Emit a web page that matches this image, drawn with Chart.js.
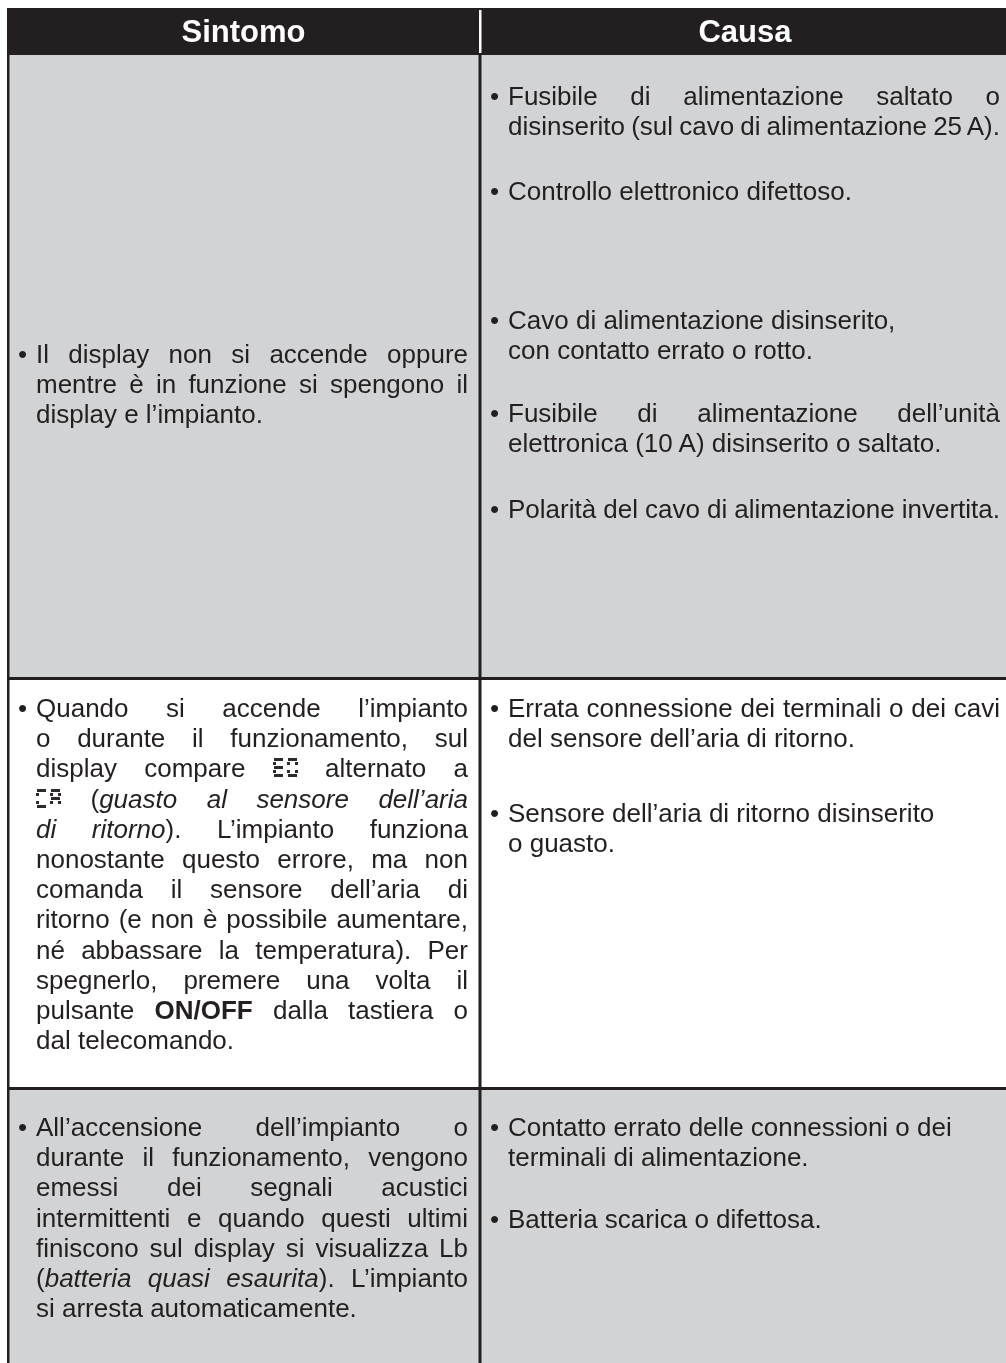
<!DOCTYPE html>
<html>
<head>
<meta charset="utf-8">
<script src="https://cdn.jsdelivr.net/npm/chart.js@4.4.1/dist/chart.umd.min.js"></script>
<style>
html,body{margin:0;padding:0;background:#fff;}
body{width:1006px;height:1363px;position:relative;overflow:hidden;font-family:"Liberation Sans",Arial,Helvetica,sans-serif;color:#231f20;}
#c{position:absolute;left:0;top:0;}
.ln{position:absolute;font-size:26px;line-height:30px;height:30px;white-space:nowrap;}
.ln span.tx{white-space:nowrap;}
.bul{position:absolute;font-size:26px;line-height:30px;white-space:nowrap;}
.hd{position:absolute;font-weight:bold;font-size:31px;line-height:40px;color:#fff;white-space:nowrap;transform:translateX(-50%);}
svg.lcd{vertical-align:baseline;}
</style>
</head>
<body>
<canvas id="c" width="1006" height="1363"></canvas>
<script>
// ---------------- DATA ----------------
const headers = ['Sintomo', 'Causa'];

// Symptom text per row (lines; j = justified line)
const symptoms = [
  [
    {t:'Il display non si accende oppure', j:true},
    {t:'mentre è in funzione si spengono il', j:true},
    {t:'display e l’impianto.'}
  ],
  [
    {t:'Quando si accende l’impianto', j:true},
    {t:'o durante il funzionamento, sul', j:true},
    {t:'display compare {E0} alternato a', j:true},
    {t:'{CA} (<i>guasto al sensore dell’aria</i>', j:true},
    {t:'<i>di ritorno</i>). L’impianto funziona', j:true},
    {t:'nonostante questo errore, ma non', j:true},
    {t:'comanda il sensore dell’aria di', j:true},
    {t:'ritorno (e non è possibile aumentare,', j:true},
    {t:'né abbassare la temperatura). Per', j:true},
    {t:'spegnerlo, premere una volta il', j:true},
    {t:'pulsante <b>ON/OFF</b> dalla tastiera o', j:true},
    {t:'dal telecomando.'}
  ],
  [
    {t:'All’accensione dell’impianto o', j:true},
    {t:'durante il funzionamento, vengono', j:true},
    {t:'emessi dei segnali acustici', j:true},
    {t:'intermittenti e quando questi ultimi', j:true},
    {t:'finiscono sul display si visualizza Lb', j:true},
    {t:'(<i>batteria quasi esaurita</i>). L’impianto', j:true},
    {t:'si arresta automaticamente.'}
  ]
];

// Causes per row: list of bullet items, each a list of lines
const causes = [
  [
    [{t:'Fusibile di alimentazione saltato o', j:true}, {t:'disinserito (sul cavo di alimentazione 25 A).', j:true}],
    [{t:'Controllo elettronico difettoso.'}],
    [{t:'Cavo di alimentazione disinserito,'}, {t:' con contatto errato o rotto.'}],
    [{t:'Fusibile di alimentazione dell’unità', j:true}, {t:'elettronica (10 A) disinserito o saltato.'}],
    [{t:'Polarità del cavo di alimentazione invertita.', j:true}]
  ],
  [
    [{t:'Errata connessione dei terminali o dei cavi', j:true}, {t:'del sensore dell’aria di ritorno.'}],
    [{t:'Sensore dell’aria di ritorno disinserito'}, {t:' o guasto.'}]
  ],
  [
    [{t:'Contatto errato delle connessioni o dei'}, {t:'terminali di alimentazione.'}],
    [{t:'Batteria scarica o difettosa.'}]
  ]
];

// ---------------- LAYOUT ----------------
const TABLE = {left:7, right:1010, divider:480, top:8};
const ROW_EDGES = [8, 55, 678.5, 1088.5, 1363];
const ROW_FILLS = ['#231f20', '#d1d3d4', '#ffffff', '#d1d3d4'];
const LINE_PITCH = 30.2;
const COL_TEXT = [{bullet:18, text:36, right:468}, {bullet:490, text:508, right:1000}];
const SYMPTOM_Y = [355, 709, 1128];               // first line centre per row
const CAUSE_Y = [[97, 192, 321, 414, 510], [709, 814], [1128, 1220]];
const INK = '#231f20';

// ---------------- CHART (table grid through Chart.js scales) ----------------
const tableGrid = {
  id: 'tableGrid',
  beforeDraw(chart) {
    const ctx = chart.ctx, X = v => chart.scales.x.getPixelForValue(v), Y = v => chart.scales.y.getPixelForValue(v);
    const rect = (x0, y0, x1, y1, c) => { ctx.fillStyle = c; ctx.fillRect(X(x0), Y(y0), X(x1) - X(x0), Y(y1) - Y(y0)); };
    ctx.save();
    for (let i = 0; i < ROW_FILLS.length; i++) rect(TABLE.left, ROW_EDGES[i], TABLE.right, ROW_EDGES[i + 1], ROW_FILLS[i]);
    // header divider (white)
    rect(TABLE.divider - 1, ROW_EDGES[0] + 2, TABLE.divider + 1.5, ROW_EDGES[1] - 2, '#ffffff');
    // column divider
    rect(TABLE.divider - 1.5, ROW_EDGES[1], TABLE.divider + 1.5, ROW_EDGES[4], INK);
    // row separators
    for (let i = 2; i < ROW_EDGES.length - 1; i++) rect(TABLE.left, ROW_EDGES[i] - 1.5, TABLE.right, ROW_EDGES[i] + 1.5, INK);
    // left border
    rect(TABLE.left, ROW_EDGES[0], TABLE.left + 2.5, ROW_EDGES[4], INK);
    ctx.restore();
  }
};

const chart = new Chart(document.getElementById('c'), {
  type: 'scatter',
  data: { datasets: [] },
  options: {
    responsive: false, animation: false, events: [],
    layout: { padding: 0 },
    plugins: { legend: { display: false }, tooltip: { enabled: false } },
    scales: {
      x: { type: 'linear', min: 0, max: 1006, display: false },
      y: { type: 'linear', min: 0, max: 1363, reverse: true, display: false }
    }
  },
  plugins: [tableGrid]
});

// ---------------- TEXT (real DOM text placed with the chart scales) ----------------
const SEG = { E: 'adefg', '0': 'abcdef', C: 'adef', A: 'abcefg' };
function lcd(str) {
  const w = 11, h = 19, t = 3, gp = 1, sp = 3;
  let r = '';
  [...str].forEach((ch, i) => {
    const ox = i * (w + sp);
    const s = SEG[ch] || '';
    const H = (y) => `<rect x="${ox + gp}" y="${y}" width="${w - 2 * gp}" height="${t}"/>`;
    const V = (x, y0, y1) => `<rect x="${x}" y="${y0}" width="${t}" height="${y1 - y0}"/>`;
    if (s.includes('a')) r += H(0);
    if (s.includes('g')) r += H((h - t) / 2);
    if (s.includes('d')) r += H(h - t);
    if (s.includes('f')) r += V(ox, t + gp, h / 2 - t / 2 - gp);
    if (s.includes('e')) r += V(ox, h / 2 + t / 2 + gp, h - t - gp);
    if (s.includes('b')) r += V(ox + w - t, t + gp, h / 2 - t / 2 - gp);
    if (s.includes('c')) r += V(ox + w - t, h / 2 + t / 2 + gp, h - t - gp);
  });
  const W = str.length * (w + sp) - sp;
  return `<svg class="lcd" aria-label="${str}" width="${W}" height="${h}" viewBox="0 0 ${W} ${h}" fill="#2e2a2b">${r}</svg>`;
}
function markup(t) { return t.replace(/\{(\w+)\}/g, (m, k) => lcd(k)); }

const X = v => chart.scales.x.getPixelForValue(v), Y = v => chart.scales.y.getPixelForValue(v);
const body = document.body;
const pending = [];
function addLine(line, col, yc, bullet) {
  const c = COL_TEXT[col];
  if (bullet) {
    const b = document.createElement('div');
    b.className = 'bul'; b.textContent = '•';
    b.style.left = X(c.bullet) + 'px'; b.style.top = (Y(yc) - 16) + 'px';
    body.appendChild(b);
  }
  const d = document.createElement('div');
  d.className = 'ln';
  d.style.left = X(c.text) + 'px'; d.style.top = (Y(yc) - 16) + 'px';
  const s = document.createElement('span');
  s.className = 'tx';
  s.innerHTML = markup(line.t);
  d.appendChild(s);
  body.appendChild(d);
  if (line.j) pending.push({ s, width: X(c.right) - X(c.text) });
}
headers.forEach((h, i) => {
  const d = document.createElement('div');
  d.className = 'hd'; d.textContent = h;
  const cx = i === 0 ? (TABLE.left + TABLE.divider) / 2 : (TABLE.divider + TABLE.right) / 2;
  d.style.left = X(cx) + 'px';
  d.style.top = (Y((ROW_EDGES[0] + ROW_EDGES[1]) / 2) - 20) + 'px';
  body.appendChild(d);
});
symptoms.forEach((lines, r) => {
  lines.forEach((ln, k) => addLine(ln, 0, SYMPTOM_Y[r] + k * LINE_PITCH, k === 0));
});
causes.forEach((items, r) => {
  items.forEach((lines, it) => {
    lines.forEach((ln, k) => addLine(ln, 1, CAUSE_Y[r][it] + k * LINE_PITCH, k === 0));
  });
});
// justify each flagged line exactly to its column width
pending.forEach(p => {
  const w = p.s.getBoundingClientRect().width;
  const n = (p.s.textContent.match(/ /g) || []).length;
  if (n > 0) p.s.style.wordSpacing = ((p.width - w) / n) + 'px';
});
</script>
</body>
</html>
